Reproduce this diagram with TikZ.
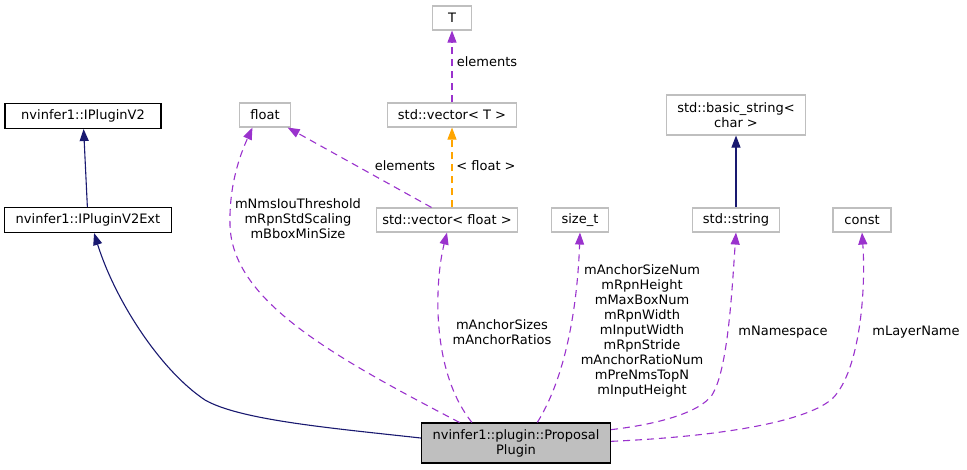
\documentclass[tikz,border=0pt]{standalone}
\usepackage{fontspec}
\setmainfont{DejaVu Sans}
\usetikzlibrary{arrows.meta}
\definecolor{usepurple}{HTML}{9A32CD}
\definecolor{inhnavy}{HTML}{191970}
\definecolor{boxgrey}{HTML}{BFBFBF}
\definecolor{tplorange}{HTML}{FFA500}
\begin{document}
\begin{tikzpicture}[x=1pt,y=-1pt, line width=1.1pt, font=\fontsize{13}{15}\selectfont,
  cls/.style={draw=boxgrey, inner sep=0pt, minimum height=24pt, align=center},
  base/.style={draw=black, inner sep=0pt, minimum height=25pt},
  tip/.style={-{Triangle[length=12pt,width=9pt]}},
  usage/.style={tip, draw=usepurple, dash pattern=on 7pt off 5pt},
  inh/.style={tip, draw=inhnavy},
  lbl/.style={align=center, inner sep=0pt}]
\useasboundingbox (0,0) rectangle (967,469);

\node[base,minimum width=156] (v2) at (83,116) {nvinfer1::IPluginV2};
\node[base,minimum width=167] (v2ext) at (88,220) {nvinfer1::IPluginV2Ext};

\foreach \nm/\x/\y/\w/\txt in {flt/265/115/51/float, tt/452/18/39/T,
  vt/452/115/129/std::vector< T >, vf/447/220/141/std::vector< float >,
  szt/580/220/57/size\_t, str/736/220/87/std::string, cst/862/220/58/const}
\node[cls,minimum width=\w] (\nm) at (\x,\y) {\txt};
\node[cls,minimum width=139,minimum height=40] (bstr) at (736,115) {std::basic\_string<\\char >};

\node[draw=black,fill=boxgrey,align=center,inner sep=0pt,minimum width=189,minimum height=40]
  (pp) at (516,443) {nvinfer1::plugin::Proposal\\Plugin};

\draw[inh] (v2ext) -- (v2);
\draw[inh] (str) -- (bstr);
\draw[inh] (pp.177) .. controls (330,428) and (240,420) .. (205,400)
  .. controls (160,370) and (115,300) .. (v2ext.-65);

\draw[usage] (pp.160) .. controls (330,355) and (232,300) .. (230,225)
  .. controls (229,185) and (240,155) .. (flt.-135);
\node[lbl] (lflt) at (298,219) {mNmsIouThreshold\\mRpnStdScaling\\mBboxMinSize};

\draw[usage] (vf.141) -- (flt.-29);
\node[lbl] (lel) at (405,166) {elements};
\draw[tip,draw=tplorange,dash pattern=on 7pt off 5pt] (vf.north -| vt.south) -- (vt);
\node[lbl] (lfl) at (486,166) {< float >};
\draw[usage] (vt) -- (tt);
\node[lbl] (lelt) at (487,62) {elements};

\draw[usage] (pp.155) .. controls (430,370) and (435,280) .. (vf.south);
\node[lbl] (lvf) at (502,332) {mAnchorSizes\\mAnchorRatios};
\draw[usage] (pp.44) .. controls (570,370) and (578,290) .. (szt.south);
\node[lbl] (lszt) at (642,331) {mAnchorSizeNum\\mRpnHeight\\mMaxBoxNum\\mRpnWidth\\mInputWidth\\mRpnStride\\mAnchorRatioNum\\mPreNmsTopN\\mInputHeight};
\draw[usage] (pp.8) .. controls (660,424) and (700,412) .. (712,395)
  .. controls (728,370) and (732,290) .. (str.south);
\node[lbl] (lstr) at (783,332) {mNamespace};
\draw[usage] (pp.1) .. controls (730,436) and (810,420) .. (833,398)
  .. controls (860,370) and (866,290) .. (cst.south);
\node[lbl] (lcst) at (916,332) {mLayerName};
\end{tikzpicture}
\end{document}
